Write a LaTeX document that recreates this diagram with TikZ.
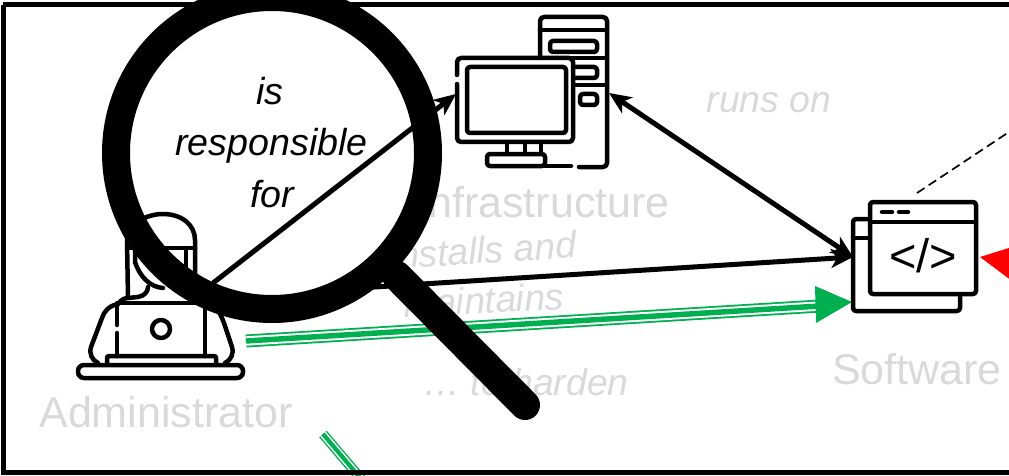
\documentclass[tikz,border=0pt]{standalone}
\usepackage{fontspec}
\setmainfont{Liberation Sans}
\usetikzlibrary{arrows.meta}
\definecolor{lbl}{HTML}{D9D9D9}
\definecolor{grn}{HTML}{00B050}
\tikzset{
  px/.style={x=1pt,y=-1pt},
  grey big/.style={text=lbl,font=\fontsize{43}{48}\selectfont,inner sep=0pt},
  grey it/.style={text=lbl,font=\fontsize{37.3}{44}\selectfont\itshape,inner sep=0pt},
  lens text/.style={text=black,font=\fontsize{37.6}{44}\selectfont\itshape,inner sep=0pt,anchor=base},
  icon/.style={line width=4.5pt,line cap=round,line join=round,draw=black},
  conn/.style={line width=5pt,draw=black},
  tip/.style={-{Stealth[length=22pt,width=19pt,inset=6pt]}},
}
\newcommand{\triple}[3]{%
  \draw[grn,line width=#3pt] (#1) -- (#2);
  \draw[white,line width=\fpeval{#3*0.72}pt] (#1) -- (#2);
  \draw[grn,line width=\fpeval{#3*0.42}pt] (#1) -- (#2);}
\begin{document}
\begin{tikzpicture}[px]
\useasboundingbox (0,0) rectangle (1009,476);
\clip (0,0) rectangle (1009,476);
% named end points
\coordinate (adminA) at (213,283);
\coordinate (adminB) at (247,295);
\coordinate (monitor) at (456,94);
\coordinate (tower) at (609,93);
\coordinate (softA) at (853,257);
\coordinate (greenA) at (246,341);
\coordinate (greenB) at (820,306);
\coordinate (stubA) at (323,434);
\coordinate (stubB) at (362,480);
\coordinate (dashA) at (917,193);
\coordinate (dashB) at (1012,130);
\coordinate (lensC) at (272,153);
\coordinate (handleA) at (397,276);
\coordinate (handleB) at (525,405);
% grey labels
\node[grey big] (lblAdmin) at (166,412) {Administrator};
\node[grey big] (lblInfra) at (543,202) {Infrastructure};
\node[grey big] (lblSoft) at (917,369) {Software};
\node[grey it] (lblRuns) at (769,103) {runs on};
\node[grey it,rotate=3.5] (lblInst) at (482,250) {Installs and};
\node[grey it,rotate=3] (lblMaint) at (484,300) {maintains};
\node[grey it] (lblHard) at (526,382) {… to harden};
% green connectors
\triple{greenA}{greenB}{13}
\fill[grn] (815,286) -- (852,302) -- (816,323) -- cycle;
\triple{stubA}{stubB}{10}
% frame
\draw[line width=5pt] (3,5) -- (1020,5);
\draw[line width=5pt] (3,5) -- (3,472) -- (1020,472);
% horizontal connector
\draw[conn,tip] (adminB) -- (softA);
% lens interior
\fill[white] (lensC) circle (156);
\node[lens text] (isT) at (270,105) {is};
\node[lens text] (respT) at (271.5,156) {responsible};
\node[lens text] (forT) at (272,207) {for};
% administrator icon
\draw[icon,rounded corners=6pt] (78,365) rectangle (243,378);
\draw[icon,rounded corners=2pt] (107,363) -- (107,356) -- (216,356) -- (216,363);
\draw[icon] (117,333) -- (117,356);
\draw[icon] (117,325) -- (117,303) -- (205,303) -- (205,356);
\draw[icon] (161,329) circle (9);
\draw[icon] (118,304) .. controls (108,306) and (104,312) .. (102,318) -- (91,347) .. controls (89,354) and (92,360) .. (98,363);
\draw[icon] (205,303) -- (214,306) .. controls (219,310) and (222,318) .. (224,323) -- (232,347) .. controls (234,354) and (231,360) .. (225,363);
\draw[icon] (118,304) .. controls (121,300) and (124,298) .. (128,298) -- (127,240) .. controls (127,225) and (145,214) .. (163,214) .. controls (182,214) and (195,225) .. (195,240) -- (195,275);
\draw[icon] (127,248) -- (195,248);
\draw[icon] (186,248) -- (186,274);
\draw[icon] (135,248) -- (135,262) .. controls (140,277) and (150,287) .. (163,288);
\draw[icon] (128,298) -- (138,297) .. controls (144,296) and (148,292) .. (148,287);
% monitor connector
\draw[conn,tip] (adminA) -- (monitor);
% server arrow
\draw[conn,{Stealth[length=22pt,width=19pt,inset=6pt]}-{Stealth[length=22pt,width=19pt,inset=6pt]}] (tower) -- (softA);
% computer icon
\draw[icon,rounded corners=4pt] (540,58) -- (540,17) -- (607,17) -- (607,167) -- (579,167);
\draw[icon] (540,30) -- (607,30);
\draw[icon] (540,58) -- (607,58);
\draw[icon] (575,85) -- (607,85);
\draw[icon,rounded corners=3pt] (550,41) rectangle (597,52);
\draw[icon,rounded corners=3pt] (575,67) -- (597,67) -- (597,78) -- (575,78);
\draw[icon,rounded corners=3pt] (580,94) rectangle (597,105);
\draw[icon,rounded corners=4pt] (457,75) -- (457,58) -- (573,58) -- (573,142) -- (457,142) -- (457,84);
\draw[icon,rounded corners=3pt] (467,67) rectangle (566,133);
\draw[icon] (507,142) -- (507,153);
\draw[icon] (525,142) -- (525,153);
\draw[icon] (541,142) -- (541,153);
\draw[icon,rounded corners=3pt] (487,154) rectangle (545,166);
\draw[icon] (545,166) -- (571,166);
% software icon
\draw[icon,rounded corners=3pt] (870,219) -- (853,219) -- (853,311) -- (960,311) -- (960,294);
\draw[icon] (853,238) -- (870,238);
\draw[icon,rounded corners=3pt,fill=white] (870,202) rectangle (976,294);
\draw[icon] (870,222) -- (976,222);
\draw[icon] (882,212) -- (892,212);
\draw[icon] (899,212) -- (908,212);
\node[inner sep=0pt,font=\fontsize{47}{50}\selectfont] (code) at (923,256) {</>};
% dashed connector
\draw[line width=1.7pt,dash pattern=on 9pt off 5pt] (dashA) -- (dashB);
% red arrowhead
\fill[red] (980,257) -- (1012,247) -- (1012,281) -- cycle;
% magnifier ring and handle
\draw[line width=28pt] (lensC) circle (156);
\draw[line width=30pt,line cap=round] (handleA) -- (handleB);
\end{tikzpicture}
\end{document}
